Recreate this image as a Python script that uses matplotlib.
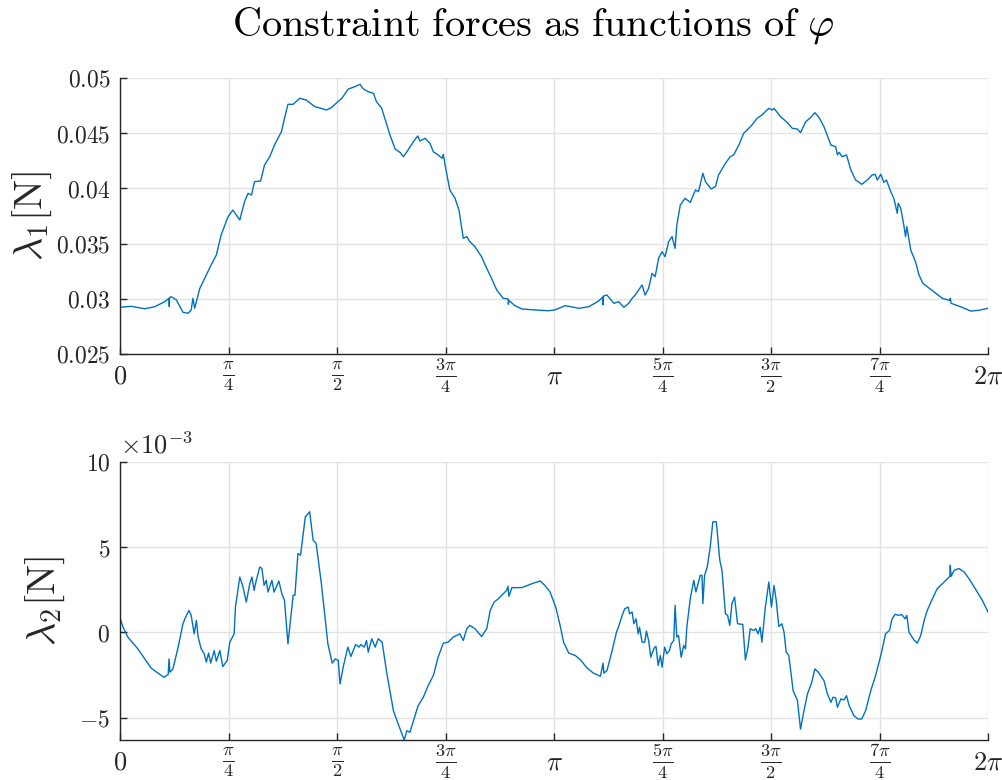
import numpy as np
import matplotlib
matplotlib.use("Agg")
import matplotlib.pyplot as plt
from matplotlib.ticker import FixedLocator, FixedFormatter

plt.rcParams["mathtext.fontset"] = "cm"
plt.rcParams["font.family"] = "serif"
plt.rcParams["font.serif"] = ["DejaVu Serif"]

# ---- lambda_1 : angle (in units of pi) and constraint force [N] ----
phi1_over_pi = [
    0.000, 0.026, 0.057, 0.080, 0.103, 0.113, 0.1135, 0.114, 0.118, 0.130, 0.145, 0.157,
    0.164, 0.168, 0.172, 0.176, 0.184, 0.199, 0.210, 0.222, 0.233, 0.249, 0.260, 0.276,
    0.287, 0.295, 0.303, 0.310, 0.324, 0.333, 0.345, 0.356, 0.372, 0.379, 0.387, 0.399,
    0.414, 0.429, 0.449, 0.464, 0.475, 0.487, 0.498, 0.511, 0.526, 0.541, 0.553, 0.561,
    0.572, 0.584, 0.591, 0.603, 0.622, 0.634, 0.645, 0.653, 0.661, 0.676, 0.686, 0.691,
    0.703, 0.714, 0.722, 0.733, 0.742, 0.745, 0.749, 0.760, 0.772, 0.781, 0.791, 0.799,
    0.806, 0.818, 0.833, 0.845, 0.856, 0.868, 0.883, 0.894, 0.895, 0.896, 0.910, 0.926,
    0.956, 0.987, 1.002, 1.026, 1.057, 1.080, 1.103, 1.112, 1.113, 1.114, 1.122, 1.138,
    1.149, 1.161, 1.172, 1.180, 1.187, 1.195, 1.203, 1.210, 1.218, 1.226, 1.233, 1.241,
    1.249, 1.256, 1.264, 1.272, 1.279, 1.283, 1.291, 1.302, 1.314, 1.326, 1.333, 1.343,
    1.349, 1.362, 1.372, 1.379, 1.395, 1.406, 1.414, 1.426, 1.437, 1.445, 1.456, 1.468,
    1.479, 1.495, 1.503, 1.507, 1.522, 1.538, 1.549, 1.561, 1.568, 1.580, 1.591, 1.601,
    1.611, 1.622, 1.638, 1.649, 1.653, 1.657, 1.664, 1.674, 1.684, 1.695, 1.709, 1.722,
    1.733, 1.740, 1.745, 1.753, 1.760, 1.766, 1.776, 1.783, 1.791, 1.793, 1.799, 1.806,
    1.810, 1.813, 1.822, 1.833, 1.841, 1.850, 1.860, 1.880, 1.895, 1.912, 1.913, 1.915,
    1.937, 1.960, 1.979, 2.000,
]
lam1 = [
    0.02923, 0.02932, 0.02910, 0.02928, 0.02974, 0.03005, 0.02930, 0.03010, 0.03019, 0.02989, 0.02878, 0.02869,
    0.02899, 0.03004, 0.02914, 0.02974, 0.03095, 0.03216, 0.03306, 0.03397, 0.03578, 0.03744, 0.03804, 0.03714,
    0.03880, 0.03955, 0.03940, 0.04061, 0.04067, 0.04212, 0.04287, 0.04393, 0.04514, 0.04635, 0.04762, 0.04762,
    0.04816, 0.04801, 0.04740, 0.04725, 0.04710, 0.04731, 0.04771, 0.04816, 0.04900, 0.04921, 0.04943, 0.04900,
    0.04876, 0.04861, 0.04785, 0.04725, 0.04484, 0.04357, 0.04327, 0.04287, 0.04332, 0.04423, 0.04475, 0.04429,
    0.04454, 0.04409, 0.04332, 0.04303, 0.04273, 0.04309, 0.04212, 0.03986, 0.03910, 0.03804, 0.03548, 0.03563,
    0.03517, 0.03472, 0.03381, 0.03276, 0.03186, 0.03080, 0.03004, 0.03000, 0.02950, 0.02985, 0.02938, 0.02908,
    0.02899, 0.02892, 0.02899, 0.02938, 0.02914, 0.02928, 0.02980, 0.03015, 0.02944, 0.03025, 0.03034, 0.02959,
    0.02974, 0.02923, 0.02959, 0.03004, 0.03034, 0.03080, 0.03125, 0.03034, 0.03095, 0.03231, 0.03200, 0.03367,
    0.03427, 0.03381, 0.03517, 0.03563, 0.03457, 0.03668, 0.03850, 0.03910, 0.03874, 0.03986, 0.03970, 0.04137,
    0.04061, 0.03995, 0.04016, 0.04121, 0.04227, 0.04287, 0.04303, 0.04393, 0.04499, 0.04529, 0.04574, 0.04635,
    0.04665, 0.04725, 0.04710, 0.04725, 0.04650, 0.04595, 0.04544, 0.04538, 0.04505, 0.04604, 0.04641, 0.04686,
    0.04641, 0.04559, 0.04393, 0.04378, 0.04303, 0.04327, 0.04287, 0.04303, 0.04167, 0.04076, 0.04037, 0.04076,
    0.04121, 0.04128, 0.04076, 0.04128, 0.04055, 0.04076, 0.03970, 0.03910, 0.03774, 0.03865, 0.03820, 0.03668,
    0.03563, 0.03653, 0.03442, 0.03336, 0.03216, 0.03140, 0.03110, 0.03050, 0.03004, 0.02985, 0.03004, 0.02959,
    0.02928, 0.02889, 0.02896, 0.02914,
]

# ---- lambda_2 : angle (in units of pi) and constraint force [1e-3 N] ----
phi2_over_pi = [
    0.000, 0.007, 0.018, 0.041, 0.057, 0.072, 0.088, 0.101, 0.111, 0.113, 0.115, 0.122,
    0.134, 0.145, 0.153, 0.159, 0.164, 0.171, 0.176, 0.180, 0.187, 0.194, 0.199, 0.204,
    0.209, 0.217, 0.222, 0.230, 0.237, 0.247, 0.253, 0.263, 0.266, 0.276, 0.283, 0.291,
    0.299, 0.304, 0.309, 0.314, 0.322, 0.327, 0.332, 0.337, 0.341, 0.350, 0.355, 0.366,
    0.373, 0.379, 0.387, 0.399, 0.403, 0.410, 0.416, 0.427, 0.437, 0.445, 0.452, 0.464,
    0.479, 0.489, 0.496, 0.503, 0.507, 0.515, 0.525, 0.532, 0.543, 0.551, 0.555, 0.563,
    0.568, 0.572, 0.580, 0.588, 0.595, 0.604, 0.615, 0.630, 0.641, 0.655, 0.661, 0.668,
    0.680, 0.687, 0.699, 0.710, 0.722, 0.733, 0.745, 0.756, 0.768, 0.783, 0.791, 0.799,
    0.806, 0.818, 0.833, 0.845, 0.853, 0.862, 0.872, 0.883, 0.891, 0.894, 0.896, 0.903,
    0.926, 0.949, 0.968, 0.979, 0.991, 1.001, 1.005, 1.015, 1.022, 1.034, 1.049, 1.061,
    1.076, 1.091, 1.107, 1.113, 1.115, 1.122, 1.134, 1.144, 1.149, 1.157, 1.163, 1.171,
    1.174, 1.180, 1.184, 1.189, 1.194, 1.197, 1.203, 1.209, 1.213, 1.218, 1.223, 1.227,
    1.232, 1.235, 1.240, 1.245, 1.249, 1.255, 1.260, 1.266, 1.270, 1.276, 1.279, 1.283,
    1.287, 1.293, 1.299, 1.303, 1.306, 1.314, 1.322, 1.327, 1.337, 1.341, 1.343, 1.347,
    1.353, 1.360, 1.366, 1.374, 1.382, 1.387, 1.395, 1.400, 1.405, 1.410, 1.416, 1.423,
    1.435, 1.441, 1.447, 1.452, 1.460, 1.465, 1.470, 1.475, 1.479, 1.487, 1.495, 1.501,
    1.507, 1.512, 1.518, 1.525, 1.530, 1.535, 1.541, 1.551, 1.561, 1.568, 1.576, 1.584,
    1.594, 1.601, 1.609, 1.622, 1.630, 1.638, 1.643, 1.649, 1.653, 1.661, 1.668, 1.674,
    1.680, 1.691, 1.701, 1.709, 1.718, 1.730, 1.741, 1.753, 1.764, 1.773, 1.779, 1.786,
    1.795, 1.801, 1.809, 1.813, 1.818, 1.829, 1.837, 1.845, 1.853, 1.860, 1.872, 1.883,
    1.899, 1.912, 1.913, 1.915, 1.922, 1.933, 1.945, 1.956, 1.972, 1.987, 2.000,
]
lam2_e3 = [
    0.86, 0.31, -0.27, -0.96, -1.55, -2.10, -2.39, -2.63, -2.47, -1.55, -2.33, -2.14,
    -0.86, 0.51, 1.00, 1.29, 1.00, -0.08, 0.71, -0.27, -0.96, -1.25, -1.74, -1.21,
    -1.80, -1.06, -1.69, -1.06, -2.00, -1.65, -0.57, -0.08, 1.49, 3.25, 2.71, 1.78,
    2.86, 3.25, 2.47, 3.06, 3.84, 3.75, 2.76, 3.06, 2.37, 3.06, 2.37, 3.02,
    2.27, 1.88, -0.67, 2.18, 2.18, 4.63, 4.53, 6.78, 7.08, 5.41, 5.22, 2.86,
    -0.67, -1.80, -1.55, -1.65, -3.02, -1.94, -0.86, -1.41, -0.71, -0.86, -0.71, -0.86,
    -0.47, -1.16, -0.37, -0.86, -0.37, -0.57, -2.43, -4.59, -5.37, -6.31, -5.76, -5.86,
    -4.88, -4.29, -3.80, -3.12, -2.53, -1.45, -0.63, -0.57, -0.27, -0.08, -0.47, 0.22,
    0.41, 0.22, -0.24, 0.22, 1.29, 1.78, 1.98, 2.27, 2.47, 2.71, 2.12, 2.63,
    2.63, 2.86, 3.02, 2.76, 2.37, 1.69, 1.39, 0.31, -0.57, -1.21, -1.35, -1.61,
    -2.08, -2.39, -2.57, -1.80, -2.39, -2.24, -1.06, 0.02, 0.35, 1.00, 1.39, 1.49,
    1.10, 1.20, 0.51, 0.80, -0.08, 0.31, -0.57, -0.57, 0.08, -0.47, -1.45, -1.16,
    -0.86, -0.82, -1.94, -1.35, -2.04, -0.86, -1.25, -1.06, -0.67, -0.47, 1.59, -0.27,
    -0.18, -1.45, -0.76, -0.96, 0.31, 1.98, 3.06, 2.37, 3.35, 3.35, 1.69, 3.35,
    3.84, 5.02, 6.49, 6.49, 4.24, 3.65, 1.10, 1.00, 0.41, 1.69, 2.08, 0.51,
    0.47, -1.61, -0.86, 0.22, 0.12, 0.22, -0.08, 0.31, -0.57, 1.49, 2.96, 1.49,
    2.76, 1.88, 0.35, 0.51, 0.02, -1.16, -1.35, -3.41, -4.00, -5.67, -4.59, -3.61,
    -2.92, -2.14, -2.33, -2.82, -3.61, -4.10, -3.80, -3.84, -4.39, -3.90, -3.96, -3.71,
    -4.29, -4.88, -5.08, -5.08, -4.59, -3.41, -2.53, -1.35, -0.08, 0.12, 0.80, 1.06,
    1.00, 1.06, 0.80, 1.00, 0.02, -0.43, -0.63, -0.18, 0.71, 1.29, 1.98, 2.57,
    2.96, 3.29, 3.94, 3.29, 3.65, 3.75, 3.55, 3.16, 2.51, 1.88, 1.20,
]

x_tick_labels = [r"$0$", r"$\frac{\pi}{4}$", r"$\frac{\pi}{2}$", r"$\frac{3\pi}{4}$",
                 r"$\pi$", r"$\frac{5\pi}{4}$", r"$\frac{3\pi}{2}$", r"$\frac{7\pi}{4}$",
                 r"$2\pi$"]
y1_ticks = [0.025, 0.03, 0.035, 0.04, 0.045, 0.05]
y1_tick_labels = ["0.025", "0.03", "0.035", "0.04", "0.045", "0.05"]
y2_ticks_e3 = [-5, 0, 5, 10]

LINE = "#0072BD"
AXC = "#262626"
GRID = "#e3e3e3"

phi1 = np.array(phi1_over_pi) * np.pi
phi2 = np.array(phi2_over_pi) * np.pi
lam2 = np.array(lam2_e3) * 1e-3

fig = plt.figure(figsize=(10.02, 7.80), dpi=100)
ax1 = fig.add_axes([120 / 1002, 1 - 354 / 780, 868 / 1002, 276 / 780])
ax2 = fig.add_axes([120 / 1002, 1 - 740 / 780, 868 / 1002, 278 / 780])


def style(ax):
    for s in ("top", "right"):
        ax.spines[s].set_visible(False)
    for s in ("left", "bottom"):
        ax.spines[s].set_color(AXC)
        ax.spines[s].set_linewidth(1.0)
    ax.tick_params(direction="in", length=5, width=1.0, color=AXC,
                   labelcolor=AXC, pad=7)
    ax.tick_params(axis="x", pad=15.5)
    ax.grid(True, color=GRID, linewidth=1.0)
    ax.set_axisbelow(True)
    ax.set_xlim(0, 2 * np.pi)
    ax.xaxis.set_major_locator(FixedLocator([k * np.pi / 4 for k in range(9)]))
    ax.xaxis.set_major_formatter(FixedFormatter(x_tick_labels))
    for lab in ax.get_xticklabels():
        lab.set_fontsize(19)
        lab.set_verticalalignment("center")


def mathlabels(labels):
    return [r"$\mathrm{%s}$" % s for s in labels]


style(ax1)
ax1.plot(phi1, lam1, color=LINE, linewidth=1.0)
ax1.set_ylim(0.025, 0.05)
ax1.set_yticks(y1_ticks)
ax1.set_yticklabels(mathlabels(y1_tick_labels), fontsize=17)
ax1.set_ylabel(r"$\lambda_1[\mathrm{N}]$", fontsize=29, color=AXC, labelpad=1)

style(ax2)
ax2.plot(phi2, lam2, color=LINE, linewidth=1.0)
ax2.set_ylim(lam2.min(), 10e-3)
ax2.set_yticks([v * 1e-3 for v in y2_ticks_e3])
ax2.set_yticklabels([r"$%d$" % v for v in y2_ticks_e3], fontsize=17)
ax2.set_ylabel(r"$\lambda_2[\mathrm{N}]$", fontsize=29, color=AXC, labelpad=9)
ax2.text(0.0, 1.012, r"$\times 10^{-3}$", transform=ax2.transAxes,
         fontsize=19, color=AXC, ha="left", va="bottom")

fig.text(533 / 1002, 1 - 26 / 780,
         r"$\mathrm{Constraint\ forces\ as\ functions\ of\ }\varphi$",
         ha="center", va="center", fontsize=29, color="black")

fig.savefig("out.png", dpi=100)
